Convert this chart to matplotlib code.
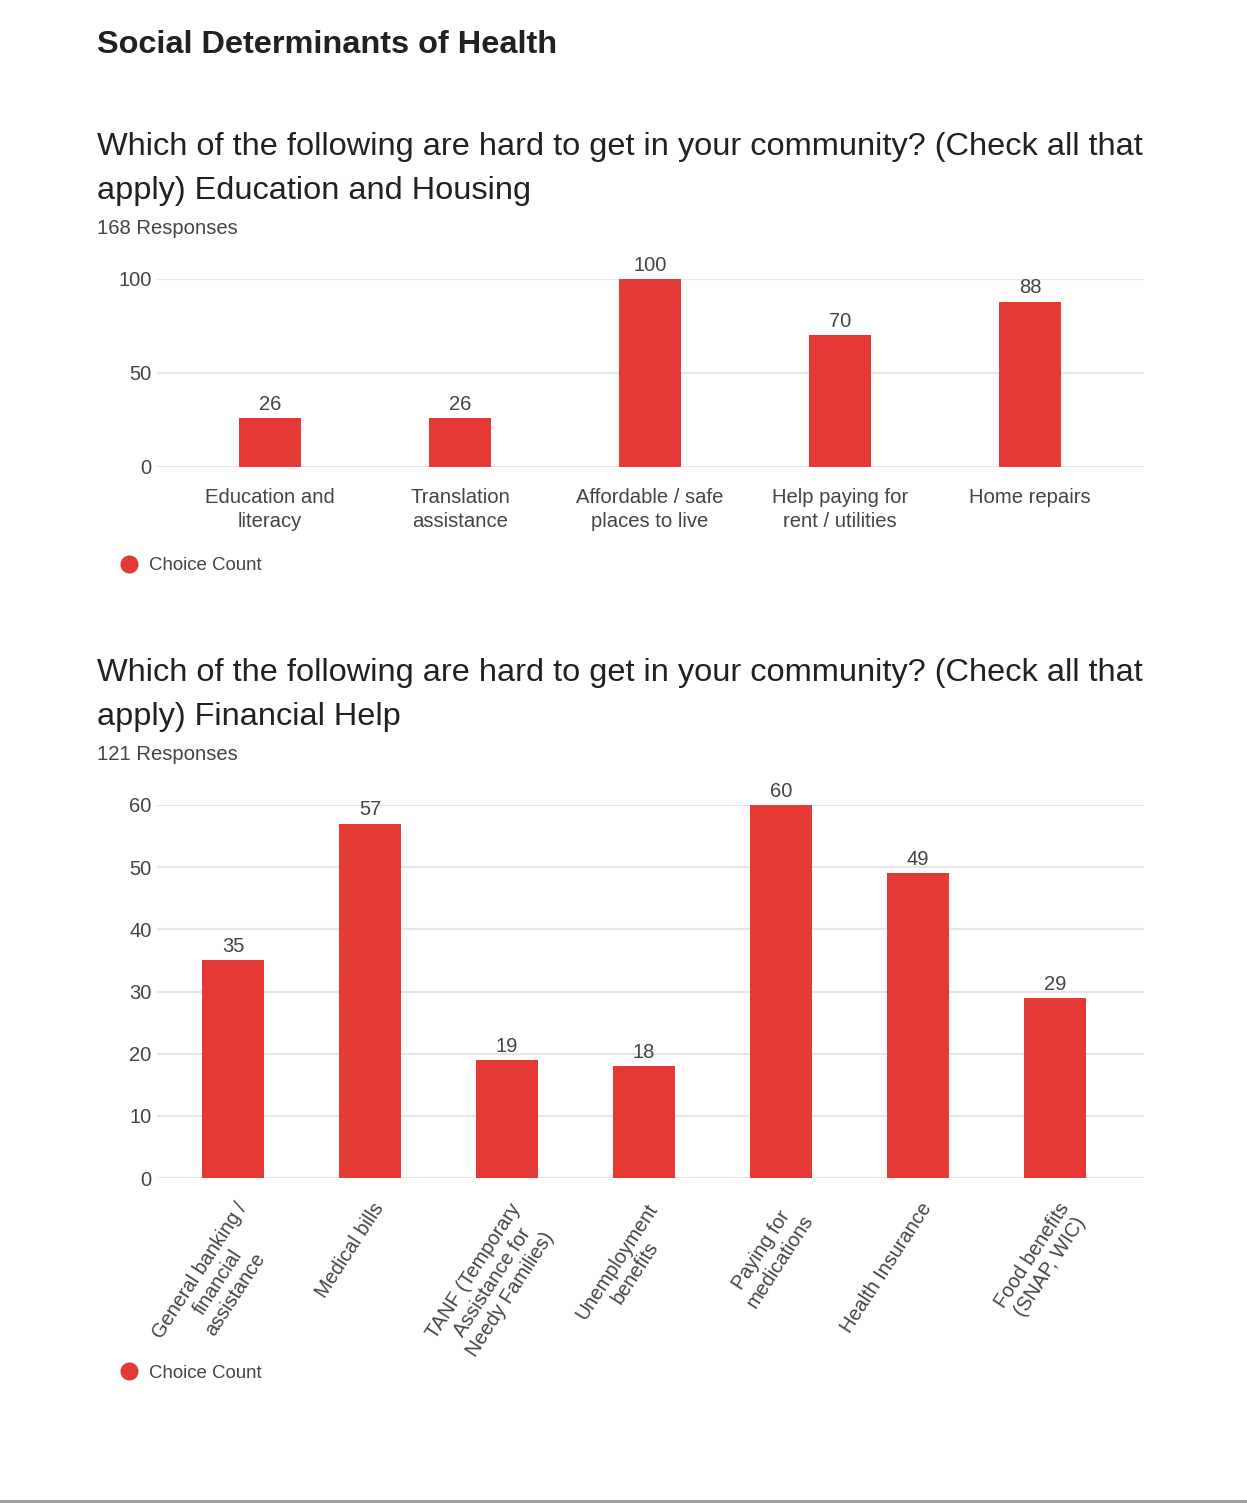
import matplotlib
matplotlib.use('Agg')
import matplotlib.pyplot as plt
import matplotlib.transforms as mtransforms
from matplotlib.lines import Line2D
import numpy as np

plt.rcParams['font.family'] = ['Liberation Sans', 'DejaVu Sans']

W, H = 1247, 1503
RED = '#e53935'
GRID = '#e6e6e6'
TXT = '#212121'
TICK = '#444444'

page_title = "Social Determinants of Health"
question = "Which of the following are hard to get in your community? (Check all that\napply) "

housing_title = "Education and Housing"
housing_responses = 168
housing_labels = ["Education and\nliteracy", "Translation\nassistance", "Affordable / safe\nplaces to live",
                  "Help paying for\nrent / utilities", "Home repairs"]
housing_counts = [26, 26, 100, 70, 88]
housing_ticks = [0, 50, 100]

finance_title = "Financial Help"
finance_responses = 121
finance_labels = ["General banking /\nfinancial\nassistance", "Medical bills",
                  "TANF (Temporary\nAssistance for\nNeedy Families)", "Unemployment\nbenefits",
                  "Paying for\nmedications", "Health Insurance", "Food benefits\n(SNAP, WIC)"]
finance_counts = [35, 57, 19, 18, 60, 49, 29]
finance_ticks = [0, 10, 20, 30, 40, 50, 60]


def fx(x):
    return x / W


def fy(y):
    return 1 - y / H


def add_axes_px(fig, left, top, right, bottom):
    return fig.add_axes([fx(left), fy(bottom), (right - left) / W, (bottom - top) / H])


def draw_chart(fig, box, first_center, step, bar_px, labels, counts, ticks, rotate):
    left, top, right, bottom = box
    ax = add_axes_px(fig, left, top, right, bottom)
    n = len(counts)
    x = np.arange(n)
    ax.set_xlim(-(first_center - left) / step, (right - first_center) / step)
    ax.set_ylim(ticks[0], ticks[-1])
    ax.bar(x, counts, width=bar_px / step, color=RED, zorder=3)
    for xi, c in zip(x, counts):
        ax.annotate(str(c), (xi, c), xytext=(0, 3), textcoords='offset points',
                    ha='center', va='bottom', fontsize=14.5, color=TICK)
    ax.set_yticks(ticks)
    ax.set_yticklabels([str(t) for t in ticks], fontsize=14.5, color=TICK)
    ax.yaxis.grid(True, color=GRID, linewidth=1.5, zorder=0)
    ax.tick_params(axis='y', length=0, pad=4)
    ax.tick_params(axis='x', length=0)
    for s in ax.spines.values():
        s.set_visible(False)
    ax.set_xticks(x)
    if rotate:
        ax.set_xticklabels(labels, rotation=57, ha='right', va='top', rotation_mode='anchor',
                           multialignment='center', fontsize=14.3, color=TICK, linespacing=1.15)
        ax.tick_params(axis='x', pad=20)
        offset = mtransforms.ScaledTranslation(2 / 100, 6 / 100, fig.dpi_scale_trans)
        for lab in ax.get_xticklabels():
            lab.set_transform(lab.get_transform() + offset)
    else:
        ax.set_xticklabels(labels, fontsize=14.6, color=TICK, linespacing=1.35)
        ax.tick_params(axis='x', pad=15)
    ax.set_facecolor('none')
    return ax


def legend_px(fig, y):
    fig.add_artist(Line2D([fx(129)], [fy(y)], marker='o', markersize=12, color=RED,
                          linestyle='none', transform=fig.transFigure))
    fig.text(fx(149), fy(y + 2), "Choice Count", fontsize=13.4, color=TICK, va='center', ha='left')


fig = plt.figure(figsize=(W / 100, H / 100), dpi=100)
fig.patch.set_facecolor('white')

fig.text(fx(97), fy(45), page_title, fontsize=23.4, fontweight='bold', color=TXT, va='center', ha='left')

# chart 1
fig.text(fx(97), fy(169), question + housing_title, fontsize=23.4, color=TXT, va='center', ha='left',
         linespacing=1.62)
fig.text(fx(97), fy(229), f"{housing_responses} Responses", fontsize=14.6, color=TICK, va='center', ha='left')
draw_chart(fig, (157, 279, 1144, 467), 270, 190, 62, housing_labels, housing_counts, housing_ticks, False)
legend_px(fig, 564)

# chart 2
fig.text(fx(97), fy(695), question + finance_title, fontsize=23.4, color=TXT, va='center', ha='left',
         linespacing=1.62)
fig.text(fx(97), fy(755), f"{finance_responses} Responses", fontsize=14.6, color=TICK, va='center', ha='left')
draw_chart(fig, (157, 805, 1144, 1178), 233, 137, 62, finance_labels, finance_counts, finance_ticks, True)
legend_px(fig, 1371)

fig.add_artist(Line2D([0, 1], [fy(1501), fy(1501)], color='#999999', linewidth=2, transform=fig.transFigure))

fig.savefig('out.png', dpi=100, facecolor='white')
